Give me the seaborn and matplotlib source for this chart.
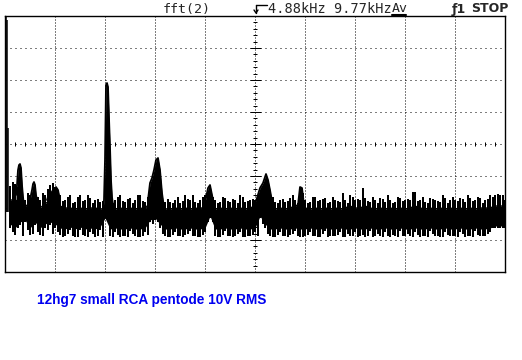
import matplotlib
matplotlib.use("Agg")
import matplotlib.pyplot as plt
import seaborn as sns
import pandas as pd
from matplotlib.lines import Line2D

# ---- data: FFT display, x = bin (0..500 across 10 div), y = level (0..256, 32 per div)
noise_bins = list(range(5, 505, 5))
noise_bins_mid = [b + 2.5 for b in range(5, 500, 5)]

# solid core of the noise band
core_top = [72, 72, 70, 66, 68, 68, 64, 68, 72, 70,
            66, 64, 64, 63, 64, 63, 64, 64, 63, 63,
            64, 63, 64, 63, 64, 63, 64, 63, 70, 70,
            66, 63, 63, 64, 63, 64, 63, 64, 63, 66,
            72, 63, 64, 63, 64, 63, 64, 63, 64, 66,
            72, 68, 64, 63, 64, 63, 64, 66, 68, 64,
            63, 64, 63, 64, 63, 64, 63, 64, 66, 64,
            64, 66, 64, 63, 64, 63, 64, 63, 64, 63,
            64, 66, 64, 63, 64, 63, 64, 63, 64, 63,
            64, 63, 64, 63, 64, 64, 64, 66, 66, 66]
core_bottom = [48, 44, 50, 52, 44, 50, 44, 48, 50, 48,
               44, 43, 45, 43, 45, 43, 44, 43, 45, 54,
               43, 44, 43, 43, 44, 43, 43, 44, 52, 54,
               48, 43, 43, 44, 43, 43, 44, 43, 43, 44,
               56, 43, 43, 44, 43, 43, 44, 43, 43, 44,
               56, 48, 43, 43, 44, 43, 43, 44, 43, 43,
               44, 43, 43, 44, 43, 43, 44, 43, 43, 44,
               43, 43, 44, 43, 43, 44, 43, 43, 44, 43,
               43, 44, 43, 43, 44, 43, 43, 44, 43, 43,
               44, 43, 43, 44, 43, 43, 44, 46, 46, 46]

# spike tops / bottoms
noise_upper = [86, 88, 82, 72, 77, 77, 72, 77, 87, 85,
               77, 72, 77, 70, 77, 72, 74, 72, 70, 67,
               72, 72, 77, 70, 74, 72, 77, 70, 82, 77,
               77, 70, 70, 72, 69, 77, 72, 70, 72, 77,
               77, 72, 70, 74, 70, 72, 77, 70, 72, 72,
               77, 77, 74, 70, 72, 70, 74, 72, 84, 72,
               70, 75, 72, 74, 70, 72, 70, 72, 77, 72,
               72, 74, 70, 72, 74, 70, 72, 70, 74, 72,
               72, 80, 72, 70, 74, 72, 70, 74, 72, 72,
               74, 70, 74, 72, 74, 72, 77, 77, 77, 72]
noise_upper_mid = [90, 85, 75, 79, 71, 75, 79, 83, 89, 79,
                   71, 75, 69, 75, 71, 77, 69, 73, 71, 75,
                   69, 75, 71, 73, 69, 77, 71, 75, 79, 75,
                   71, 73, 69, 75, 71, 73, 77, 69, 75, 79,
                   75, 69, 75, 71, 73, 69, 75, 71, 73, 77,
                   79, 71, 75, 69, 73, 71, 77, 69, 79, 69,
                   75, 71, 73, 69, 75, 71, 79, 69, 75, 73,
                   84, 71, 75, 69, 73, 77, 69, 75, 71, 73,
                   80, 71, 75, 69, 73, 71, 77, 69, 75, 71,
                   73, 77, 71, 75, 69, 73, 75, 78, 77]
noise_lower = [44, 37, 47, 50, 37, 47, 37, 44, 47, 44,
               37, 36, 42, 35, 42, 36, 40, 35, 42, 54,
               36, 40, 35, 36, 41, 36, 35, 40, 50, 52,
               44, 36, 35, 40, 36, 37, 41, 36, 35, 40,
               54, 36, 35, 41, 36, 36, 40, 35, 36, 40,
               54, 44, 36, 35, 40, 36, 37, 41, 35, 36,
               40, 36, 35, 41, 36, 36, 40, 35, 36, 40,
               36, 35, 41, 36, 36, 40, 35, 36, 41, 36,
               36, 40, 35, 36, 41, 36, 35, 40, 36, 36,
               40, 35, 36, 41, 36, 36, 40, 44, 44, 44]
noise_lower_mid = [40, 44, 36, 42, 38, 40, 36, 42, 38, 40,
                   35, 38, 36, 35, 37, 35, 38, 36, 35, 50,
                   35, 37, 36, 35, 38, 35, 36, 37, 48, 50,
                   38, 35, 37, 36, 35, 38, 36, 35, 37, 50,
                   50, 35, 37, 36, 35, 38, 35, 36, 37, 36,
                   48, 38, 35, 37, 36, 35, 38, 36, 35, 37,
                   36, 35, 38, 35, 36, 37, 35, 38, 36, 35,
                   37, 36, 35, 38, 35, 36, 37, 35, 36, 38,
                   35, 37, 36, 35, 38, 36, 35, 37, 36, 35,
                   38, 36, 35, 37, 36, 38, 44, 44, 44]

dc_bins = [1, 2, 3]
dc_levels = [255, 252, 144]

peaks = {
    "p1": ([11, 12, 13, 14, 15, 16, 17, 18, 19], [77, 87, 102, 107, 108, 104, 87, 75, 67]),
    "p2": ([25, 27, 28, 29, 30, 31, 33], [72, 82, 88, 90, 87, 77, 67]),
    "p3": ([42, 45, 48, 51, 53, 55], [72, 82, 77, 85, 82, 72]),
    "p4": ([98, 99, 100, 101, 102, 103, 104, 105, 106, 107, 108],
           [62, 72, 112, 187, 189, 185, 154, 125, 92, 75, 67]),
    "p5": ([143, 145, 147, 149, 151, 153, 155, 157, 159], [72, 89, 94, 102, 112, 114, 102, 79, 64]),
    "p6": ([199, 201, 203, 205, 207, 209], [67, 74, 84, 87, 77, 67]),
    "p7": ([250, 252, 255, 258, 261, 263, 265, 268], [67, 74, 84, 89, 98, 92, 82, 65]),
    "p8": ([293, 295, 297, 299], [67, 85, 84, 67]),
}

header_fft = "fft(2)"
header_freq = "4.88kHz 9.77kHz"
header_avg = "Av"
header_trig = "ƒ1"
header_state = "STOP"
caption = "12hg7 small RCA pentode 10V RMS"

# ---- figure
sns.set_theme(style="white")
plt.rcParams["font.family"] = ["DejaVu Sans"]
fig = plt.figure(figsize=(5.22, 3.6), dpi=100)
fig.patch.set_facecolor("white")
ax = fig.add_axes([5 / 522, 88 / 360, 500 / 522, 256 / 360])
ax.set_facecolor("white")
ax.set_xlim(0, 500)
ax.set_ylim(0, 256)
ax.set_xticks([])
ax.set_yticks([])
for s in ax.spines.values():
    s.set_color("black")
    s.set_linewidth(1.0)

px = 0.72
# grid
for lv in range(32, 256, 32):
    ax.axhline(lv, color="black", lw=px, ls=(0, (1, 4)), zorder=1)
for b in range(50, 500, 50):
    ax.axvline(b, color="black", lw=px, ls=(0, (1, 2)), zorder=1)
# centre tick marks
ax.plot(list(range(0, 501, 10)), [128] * 51, ls="none", marker="|",
        ms=5 * px, mew=px, color="black", zorder=1)
minor_lv = [i * 6.4 for i in range(0, 41)]
ax.plot([250] * len(minor_lv), minor_lv, ls="none", marker="_",
        ms=5 * px, mew=px, color="black", zorder=1)
ax.plot([250] * 7, list(range(32, 256, 32)), ls="none", marker="_",
        ms=11 * px, mew=px, color="black", zorder=1)

# noise band core
df = pd.DataFrame({"bin": noise_bins, "top": core_top, "bottom": core_bottom,
                   "upper": noise_upper, "lower": noise_lower})
dfm = pd.DataFrame({"bin": noise_bins_mid, "upper": noise_upper_mid, "lower": noise_lower_mid})
ax.fill_between(df["bin"], df["bottom"], df["top"], color="black", lw=0, zorder=3)
sns.lineplot(data=df, x="bin", y="top", ax=ax, color="black", lw=1.0, zorder=3)
# spikes (vertical trace segments)
ax.vlines(df["bin"], df["lower"], df["upper"], color="black", lw=1.44,
          antialiased=False, zorder=4)
ax.vlines(dfm["bin"], dfm["lower"], dfm["upper"], color="black", lw=1.44,
          antialiased=False, zorder=4)

# peaks
for name, (pb, pl) in peaks.items():
    ax.fill_between(pb, [55] * len(pb), pl, color="black", lw=0, zorder=3)
    ax.plot(pb, pl, color="black", lw=1.3, zorder=4)

# DC line
ax.vlines(dc_bins, 60, dc_levels, color="black", lw=1.1, zorder=4)
ax.set_xlabel("")
ax.set_ylabel("")

# ---- header
def fx(x):
    return x / 522

def fy(y):
    return 1 - y / 360

mono = ["DejaVu Sans Mono"]
fig.text(fx(163), fy(9), header_fft, family=mono, size=9.5, va="center", ha="left")
# trigger-ref arrow
fig.add_artist(Line2D([fx(256), fx(267)], [fy(5), fy(5)], color="black", lw=1.0))
fig.add_artist(Line2D([fx(256), fx(256)], [fy(5), fy(13)], color="black", lw=1.0))
fig.add_artist(Line2D([fx(254), fx(256), fx(258)], [fy(10), fy(13), fy(10)], color="black", lw=1.0))
fig.text(fx(268), fy(9), header_freq, family=mono, size=9.8, va="center", ha="left")
fig.text(fx(392), fy(9), header_avg, family=mono, size=9.5, va="center", ha="left")
fig.add_artist(Line2D([fx(392), fx(406)], [fy(15), fy(15)], color="black", lw=1.5))
fig.text(fx(452), fy(9), header_trig, family=["DejaVu Sans"], weight="bold", size=9, va="center", ha="left")
fig.text(fx(471), fy(9), header_state, family=["DejaVu Sans"], weight="bold", size=9, va="center", ha="left")

fig.text(fx(37), fy(300), caption, family=["Liberation Sans"], weight="bold", size=9.8,
         color="#0000F0", va="center", ha="left")

fig.savefig("out.png", dpi=100, facecolor="white")
